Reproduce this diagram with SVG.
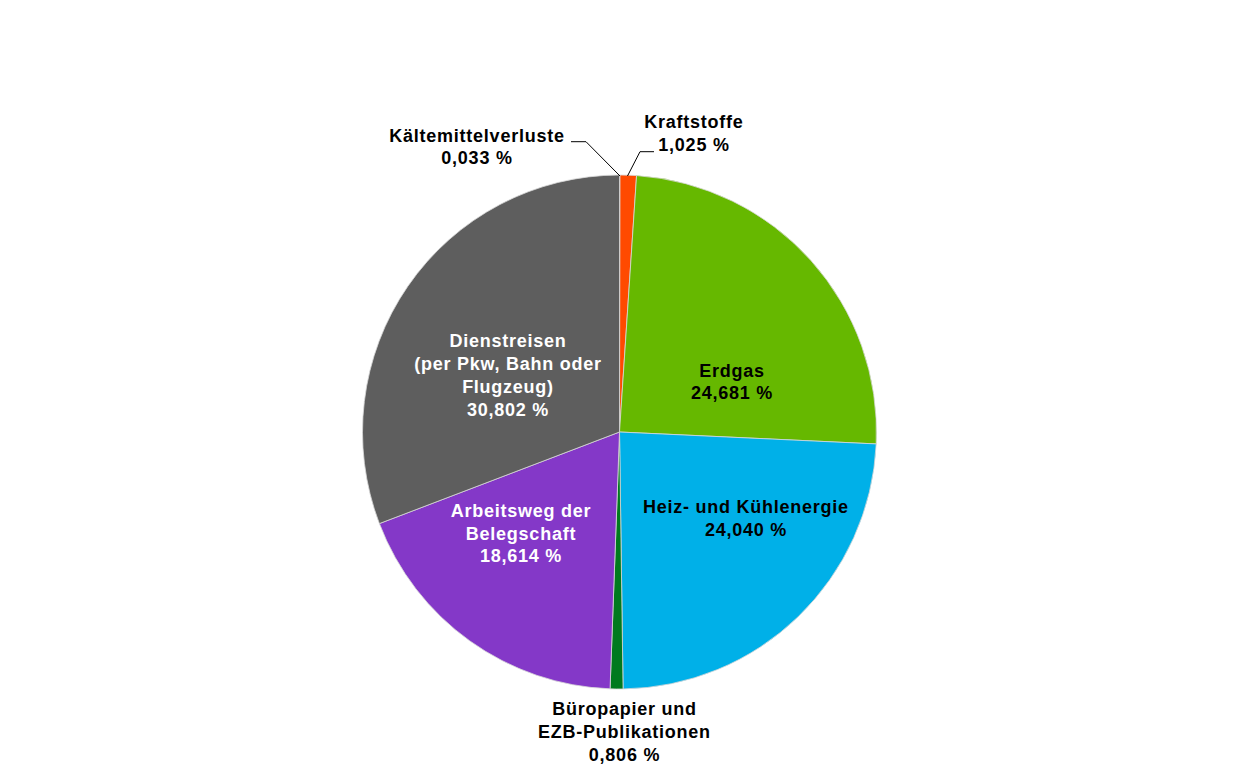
<svg xmlns="http://www.w3.org/2000/svg" width="1240" height="780" viewBox="0 0 1240 780">
<style>
.s{stroke:#d8d8d8;stroke-width:0.8;stroke-linejoin:round}
text{font-family:"Liberation Sans",Arial,sans-serif;font-weight:bold;font-size:18px;letter-spacing:0.75px;text-anchor:middle}
.w{fill:#ffffff}
.b{fill:#000000}
.ld{fill:none;stroke:#000000;stroke-width:1}
</style>
<rect width="1240" height="780" fill="#ffffff"/>
<g id="slices">
<g id="kaeltemittel"><path class="s" fill="#A6A6A6" d="M619.5,432 L619.5,175 A257,257 0 0,1 620.03,175 Z"/></g>
<g id="kraftstoffe"><path class="s" fill="#FF4A00" d="M619.5,432 L620.03,175 A257,257 0 0,1 636.57,175.57 Z"/></g>
<g id="erdgas"><path class="s" fill="#66B800" d="M619.5,432 L636.57,175.57 A257,257 0 0,1 876.22,443.93 Z"/></g>
<g id="heiz"><path class="s" fill="#00B0E8" d="M619.5,432 L876.22,443.93 A257,257 0 0,1 623.07,688.98 Z"/></g>
<g id="buero"><path class="s" fill="#007A1E" d="M619.5,432 L623.07,688.98 A257,257 0 0,1 610.06,688.83 Z"/></g>
<g id="arbeitsweg"><path class="s" fill="#8438C8" d="M619.5,432 L610.06,688.83 A257,257 0 0,1 379.38,523.59 Z"/></g>
<g id="dienstreisen"><path class="s" fill="#5E5E5E" d="M619.5,432 L379.38,523.59 A257,257 0 0,1 619.5,175 Z"/></g>
</g>
<g id="connectors">
<polyline class="ld" points="571,141.7 586,141.7 620,176"/>
<polyline class="ld" points="654,151.7 640,151.7 627.5,176"/>
</g>
<g id="labels">
<g id="label-kaeltemittel"><text class="b" x="477" y="141.7">Kältemittelverluste</text><text class="b" x="477" y="164">0,033 %</text></g>
<g id="label-kraftstoffe"><text class="b" x="694" y="128.3">Kraftstoffe</text><text class="b" x="694" y="150.8">1,025 %</text></g>
<g id="label-erdgas"><text class="b" x="732" y="376.7">Erdgas</text><text class="b" x="732" y="399.3">24,681 %</text></g>
<g id="label-heiz"><text class="b" x="746" y="513.3">Heiz- und Kühlenergie</text><text class="b" x="746" y="536">24,040 %</text></g>
<g id="label-buero"><text class="b" x="624.5" y="715.3">Büropapier und</text><text class="b" x="624.5" y="738.3">EZB-Publikationen</text><text class="b" x="624.5" y="761.3">0,806 %</text></g>
<g id="label-arbeitsweg"><text class="w" x="521" y="517">Arbeitsweg der</text><text class="w" x="521" y="539.7">Belegschaft</text><text class="w" x="521" y="562.4">18,614 %</text></g>
<g id="label-dienstreisen"><text class="w" x="508" y="347.3">Dienstreisen</text><text class="w" x="508" y="370">(per Pkw, Bahn oder</text><text class="w" x="508" y="392.8">Flugzeug)</text><text class="w" x="508" y="415.6">30,802 %</text></g>
</g>
</svg>
